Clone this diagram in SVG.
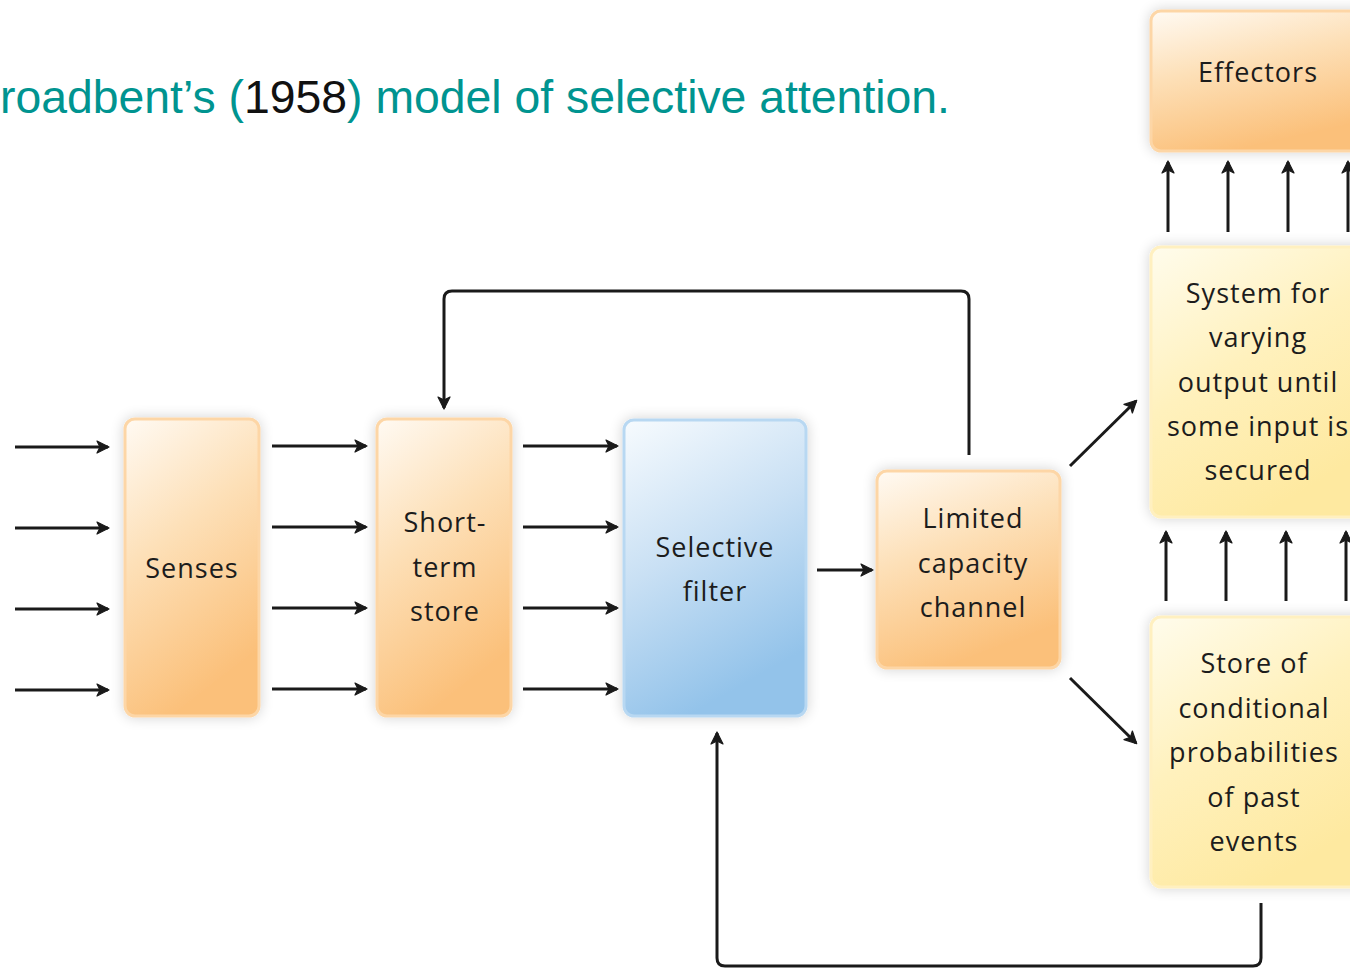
<svg xmlns="http://www.w3.org/2000/svg" width="1350" height="968" viewBox="0 0 1350 968">
  <defs>
    <linearGradient id="gOrange" x1="0" y1="0" x2="0.35" y2="1">
      <stop offset="0" stop-color="#fffaf3"/>
      <stop offset="0.45" stop-color="#fde0b8"/>
      <stop offset="1" stop-color="#fbc07a"/>
    </linearGradient>
    <linearGradient id="gBlue" x1="0" y1="0" x2="0.35" y2="1">
      <stop offset="0" stop-color="#f7fbfe"/>
      <stop offset="0.5" stop-color="#c9e0f4"/>
      <stop offset="1" stop-color="#93c3ea"/>
    </linearGradient>
    <linearGradient id="gYellow" x1="0" y1="0" x2="0.5" y2="1">
      <stop offset="0" stop-color="#fffcec"/>
      <stop offset="0.5" stop-color="#fff1bd"/>
      <stop offset="1" stop-color="#fee9a0"/>
    </linearGradient>
    <filter id="halo" x="-20%" y="-20%" width="140%" height="140%">
      <feGaussianBlur in="SourceAlpha" stdDeviation="7"/>
      <feComponentTransfer><feFuncA type="linear" slope="0.18"/></feComponentTransfer>
      <feMerge><feMergeNode/><feMergeNode in="SourceGraphic"/></feMerge>
    </filter>
    <!-- arrowhead drawn in user units so it stays the same size on every wire -->
    <marker id="head" viewBox="-2 -8 16 16" refX="11" refY="0" markerWidth="16" markerHeight="16" markerUnits="userSpaceOnUse" orient="auto" overflow="visible">
      <path d="M0,-6 L12,0 L0,6 L3,0 Z" fill="#1a1a1a" stroke="#1a1a1a" stroke-width="1.2" stroke-linejoin="round"/>
    </marker>
  </defs>
  <style>
    .box { filter: url(#halo); stroke-width: 3; }
    .orange { fill: url(#gOrange); stroke: #fdd6a6; }
    .blue { fill: url(#gBlue); stroke: #b8d8f2; }
    .yellow { fill: url(#gYellow); stroke: #fff0c0; }
    .lbl { font-family: "Open Sans", "DejaVu Sans", sans-serif; font-size: 27px; fill: #1c1c1c; text-anchor: middle; letter-spacing: 1px; }
    .wire { fill: none; stroke: #1a1a1a; stroke-width: 3; }
    .title { font-family: "Liberation Sans", Arial, sans-serif; font-size: 47px; fill: #009490; }
  </style>

  <rect width="1350" height="968" fill="#ffffff"/>

  <text class="title" x="0" y="113" textLength="950" lengthAdjust="spacingAndGlyphs">roadbent’s (<tspan fill="#111">1958</tspan>) model of selective attention.</text>

  <g id="senses">
    <rect class="box orange" x="125" y="419" width="134" height="297" rx="10"/>
    <text class="lbl" x="192" y="578">Senses</text>
  </g>
  <g id="short-term-store">
    <rect class="box orange" x="377" y="419" width="134" height="297" rx="10"/>
    <text class="lbl" x="445" y="532">Short-</text>
    <text class="lbl" x="445" y="577">term</text>
    <text class="lbl" x="445" y="621">store</text>
  </g>
  <g id="selective-filter">
    <rect class="box blue" x="624" y="420" width="182" height="296" rx="10"/>
    <text class="lbl" x="715" y="557">Selective</text>
    <text class="lbl" x="715" y="601">filter</text>
  </g>
  <g id="limited-capacity-channel">
    <rect class="box orange" x="877" y="471" width="183" height="197" rx="10"/>
    <text class="lbl" x="973" y="528">Limited</text>
    <text class="lbl" x="973" y="573">capacity</text>
    <text class="lbl" x="973" y="617">channel</text>
  </g>
  <g id="effectors">
    <rect class="box orange" x="1151" y="11" width="220" height="140" rx="10"/>
    <text class="lbl" x="1258" y="82">Effectors</text>
  </g>
  <g id="output-system">
    <rect class="box yellow" x="1151" y="247" width="220" height="270" rx="10"/>
    <text class="lbl" x="1258" y="303">System for</text>
    <text class="lbl" x="1258" y="347">varying</text>
    <text class="lbl" x="1258" y="392">output until</text>
    <text class="lbl" x="1258" y="436">some input is</text>
    <text class="lbl" x="1258" y="480">secured</text>
  </g>
  <g id="conditional-store">
    <rect class="box yellow" x="1151" y="617" width="220" height="270" rx="10"/>
    <text class="lbl" x="1254" y="673">Store of</text>
    <text class="lbl" x="1254" y="718">conditional</text>
    <text class="lbl" x="1254" y="762">probabilities</text>
    <text class="lbl" x="1254" y="807">of past</text>
    <text class="lbl" x="1254" y="851">events</text>
  </g>

  <g id="connectors">
    <!-- inputs into the senses -->
    <path class="wire" marker-end="url(#head)" d="M15,447 H108"/>
    <path class="wire" marker-end="url(#head)" d="M15,528 H108"/>
    <path class="wire" marker-end="url(#head)" d="M15,609 H108"/>
    <path class="wire" marker-end="url(#head)" d="M15,690 H108"/>
    <!-- senses to short-term store -->
    <path class="wire" marker-end="url(#head)" d="M272,446 H366"/>
    <path class="wire" marker-end="url(#head)" d="M272,527 H366"/>
    <path class="wire" marker-end="url(#head)" d="M272,608 H366"/>
    <path class="wire" marker-end="url(#head)" d="M272,689 H366"/>
    <!-- short-term store to selective filter -->
    <path class="wire" marker-end="url(#head)" d="M523,446 H617"/>
    <path class="wire" marker-end="url(#head)" d="M523,527 H617"/>
    <path class="wire" marker-end="url(#head)" d="M523,608 H617"/>
    <path class="wire" marker-end="url(#head)" d="M523,689 H617"/>
    <!-- filter to channel -->
    <path class="wire" marker-end="url(#head)" d="M817,570 H872"/>
    <!-- rehearsal loop back to the store -->
    <path class="wire" marker-end="url(#head)" d="M969,455 V299 Q969,291 961,291 H452 Q444,291 444,299 V408"/>
    <!-- channel to output system and to conditional store -->
    <path class="wire" marker-end="url(#head)" d="M1070,466 L1136,401"/>
    <path class="wire" marker-end="url(#head)" d="M1070,678 L1136,743"/>
    <!-- output system to effectors -->
    <path class="wire" marker-end="url(#head)" d="M1168,232 V162"/>
    <path class="wire" marker-end="url(#head)" d="M1228,232 V162"/>
    <path class="wire" marker-end="url(#head)" d="M1288,232 V162"/>
    <path class="wire" marker-end="url(#head)" d="M1348,232 V162"/>
    <!-- conditional store to output system -->
    <path class="wire" marker-end="url(#head)" d="M1166,601 V532"/>
    <path class="wire" marker-end="url(#head)" d="M1226,601 V532"/>
    <path class="wire" marker-end="url(#head)" d="M1286,601 V532"/>
    <path class="wire" marker-end="url(#head)" d="M1346,601 V532"/>
    <!-- conditional store back to the filter -->
    <path class="wire" marker-end="url(#head)" d="M1261,903 V958 Q1261,966 1253,966 H725 Q717,966 717,958 V733"/>
  </g>
</svg>
